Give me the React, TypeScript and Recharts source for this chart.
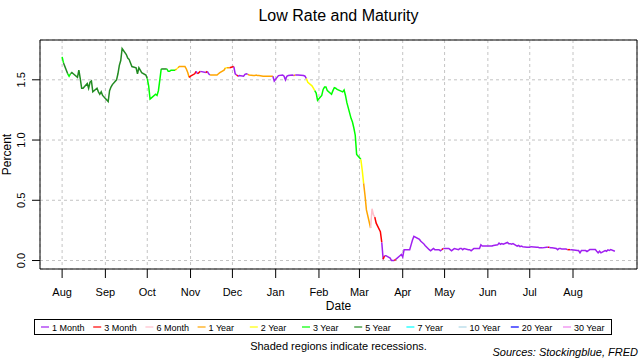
import React from "react";
import {
  LineChart,
  Line,
  XAxis,
  YAxis,
  CartesianGrid,
  ReferenceArea,
} from "recharts";

// Lowest Treasury yield of the day and the maturity that held it
const dates = [
  "2019-08-01", "2019-08-02", "2019-08-05", "2019-08-06", "2019-08-07", "2019-08-08", "2019-08-09", "2019-08-12", "2019-08-13", "2019-08-14", "2019-08-15", "2019-08-16", "2019-08-19", "2019-08-20", "2019-08-21", "2019-08-22", "2019-08-23", "2019-08-26", "2019-08-27", "2019-08-28", "2019-08-29", "2019-08-30",
  "2019-09-03", "2019-09-04", "2019-09-05", "2019-09-06", "2019-09-09", "2019-09-10", "2019-09-11", "2019-09-12", "2019-09-13", "2019-09-16", "2019-09-17", "2019-09-18", "2019-09-19", "2019-09-20", "2019-09-23", "2019-09-24", "2019-09-25", "2019-09-26", "2019-09-27", "2019-09-30",
  "2019-10-01", "2019-10-02", "2019-10-03", "2019-10-04", "2019-10-07", "2019-10-08", "2019-10-09", "2019-10-10", "2019-10-11", "2019-10-15", "2019-10-16", "2019-10-17", "2019-10-18", "2019-10-21", "2019-10-22", "2019-10-23", "2019-10-24", "2019-10-25", "2019-10-28", "2019-10-29", "2019-10-30", "2019-10-31",
  "2019-11-01", "2019-11-04", "2019-11-05", "2019-11-06", "2019-11-07", "2019-11-08", "2019-11-12", "2019-11-13", "2019-11-14", "2019-11-15", "2019-11-18", "2019-11-19", "2019-11-20", "2019-11-21", "2019-11-22", "2019-11-25", "2019-11-26", "2019-11-27", "2019-11-29",
  "2019-12-02", "2019-12-03", "2019-12-04", "2019-12-05", "2019-12-06", "2019-12-09", "2019-12-10", "2019-12-11", "2019-12-12", "2019-12-13", "2019-12-16", "2019-12-17", "2019-12-18", "2019-12-19", "2019-12-20", "2019-12-23", "2019-12-24", "2019-12-26", "2019-12-27", "2019-12-30", "2019-12-31",
  "2020-01-02", "2020-01-03", "2020-01-06", "2020-01-07", "2020-01-08", "2020-01-09", "2020-01-10", "2020-01-13", "2020-01-14", "2020-01-15", "2020-01-16", "2020-01-17", "2020-01-21", "2020-01-22", "2020-01-23", "2020-01-24", "2020-01-27", "2020-01-28", "2020-01-29", "2020-01-30", "2020-01-31",
  "2020-02-03", "2020-02-04", "2020-02-05", "2020-02-06", "2020-02-07", "2020-02-10", "2020-02-11", "2020-02-12", "2020-02-13", "2020-02-14", "2020-02-18", "2020-02-19", "2020-02-20", "2020-02-21", "2020-02-24", "2020-02-25", "2020-02-26", "2020-02-27", "2020-02-28",
  "2020-03-02", "2020-03-03", "2020-03-04", "2020-03-05", "2020-03-06", "2020-03-09", "2020-03-10", "2020-03-11", "2020-03-12", "2020-03-13", "2020-03-16", "2020-03-17", "2020-03-18", "2020-03-19", "2020-03-20", "2020-03-23", "2020-03-24", "2020-03-25", "2020-03-26", "2020-03-27", "2020-03-30", "2020-03-31",
  "2020-04-01", "2020-04-02", "2020-04-03", "2020-04-06", "2020-04-07", "2020-04-08", "2020-04-09", "2020-04-13", "2020-04-14", "2020-04-15", "2020-04-16", "2020-04-17", "2020-04-20", "2020-04-21", "2020-04-22", "2020-04-23", "2020-04-24", "2020-04-27", "2020-04-28", "2020-04-29", "2020-04-30",
  "2020-05-01", "2020-05-04", "2020-05-05", "2020-05-06", "2020-05-07", "2020-05-08", "2020-05-11", "2020-05-12", "2020-05-13", "2020-05-14", "2020-05-15", "2020-05-18", "2020-05-19", "2020-05-20", "2020-05-21", "2020-05-22", "2020-05-26", "2020-05-27", "2020-05-28", "2020-05-29",
  "2020-06-01", "2020-06-02", "2020-06-03", "2020-06-04", "2020-06-05", "2020-06-08", "2020-06-09", "2020-06-10", "2020-06-11", "2020-06-12", "2020-06-15", "2020-06-16", "2020-06-17", "2020-06-18", "2020-06-19", "2020-06-22", "2020-06-23", "2020-06-24", "2020-06-25", "2020-06-26", "2020-06-29", "2020-06-30",
  "2020-07-01", "2020-07-02", "2020-07-06", "2020-07-07", "2020-07-08", "2020-07-09", "2020-07-10", "2020-07-13", "2020-07-14", "2020-07-15", "2020-07-16", "2020-07-17", "2020-07-20", "2020-07-21", "2020-07-22", "2020-07-23", "2020-07-24", "2020-07-27", "2020-07-28", "2020-07-29", "2020-07-30", "2020-07-31",
  "2020-08-03", "2020-08-04", "2020-08-05", "2020-08-06", "2020-08-07", "2020-08-10", "2020-08-11", "2020-08-12", "2020-08-13", "2020-08-14", "2020-08-17", "2020-08-18", "2020-08-19", "2020-08-20", "2020-08-21", "2020-08-24", "2020-08-25", "2020-08-26", "2020-08-27", "2020-08-28", "2020-08-31",
];

const lowRate = [
  1.69, 1.64, 1.55, 1.53, 1.55, 1.56, 1.55, 1.52, 1.58, 1.51, 1.43, 1.43, 1.47, 1.43, 1.48, 1.49, 1.40, 1.43, 1.40, 1.38, 1.40, 1.37,
  1.32, 1.41, 1.44, 1.46, 1.50, 1.55, 1.62, 1.66, 1.76, 1.71, 1.68, 1.67, 1.64, 1.61, 1.60, 1.55, 1.60, 1.58, 1.56, 1.54,
  1.51, 1.45, 1.34, 1.35, 1.38, 1.37, 1.41, 1.50, 1.59, 1.59, 1.57, 1.57, 1.58, 1.58, 1.59, 1.60, 1.61, 1.61, 1.61, 1.59, 1.56, 1.52,
  1.53, 1.55, 1.57, 1.55, 1.56, 1.57, 1.56, 1.57, 1.55, 1.54, 1.54, 1.54, 1.54, 1.55, 1.56, 1.58, 1.60, 1.60, 1.60,
  1.61, 1.55, 1.54, 1.53, 1.535, 1.53, 1.545, 1.55, 1.545, 1.54, 1.535, 1.535, 1.54, 1.535, 1.535, 1.53, 1.53, 1.53, 1.53, 1.53, 1.49,
  1.52, 1.535, 1.54, 1.53, 1.50, 1.53, 1.535, 1.54, 1.535, 1.54, 1.54, 1.54, 1.535, 1.53, 1.51, 1.48, 1.45, 1.43, 1.41, 1.39, 1.33,
  1.37, 1.42, 1.44, 1.44, 1.41, 1.38, 1.41, 1.435, 1.43, 1.42, 1.40, 1.415, 1.37, 1.31, 1.18, 1.15, 1.10, 1.04, 0.88,
  0.84, 0.75, 0.64, 0.54, 0.42, 0.27, 0.43, 0.38, 0.36, 0.31, 0.24, 0.15, 0.01, 0.04, 0.04, 0.02, 0.0, 0.0, 0.0, 0.01, 0.04, 0.05,
  0.03, 0.09, 0.09, 0.09, 0.13, 0.17, 0.20, 0.175, 0.16, 0.15, 0.14, 0.125, 0.09, 0.08, 0.09, 0.10, 0.09, 0.09, 0.08, 0.09, 0.10,
  0.10, 0.10, 0.09, 0.08, 0.09, 0.10, 0.09, 0.10, 0.10, 0.09, 0.10, 0.09, 0.09, 0.08, 0.09, 0.10, 0.10, 0.13, 0.12, 0.12,
  0.12, 0.12, 0.12, 0.12, 0.125, 0.13, 0.145, 0.135, 0.14, 0.135, 0.15, 0.14, 0.14, 0.135, 0.14, 0.12, 0.125, 0.115, 0.12, 0.115, 0.11, 0.11,
  0.11, 0.115, 0.11, 0.11, 0.105, 0.105, 0.105, 0.11, 0.11, 0.11, 0.105, 0.105, 0.10, 0.09, 0.10, 0.10, 0.095, 0.095, 0.09, 0.09, 0.09, 0.09,
  0.085, 0.083, 0.083, 0.064, 0.083, 0.083, 0.075, 0.083, 0.091, 0.091, 0.091, 0.077, 0.064, 0.077, 0.064, 0.083, 0.077, 0.088, 0.083, 0.091, 0.077,
];

const maturity = [
  "3Y", "5Y", "3Y", "3Y", "5Y", "5Y", "5Y", "5Y", "5Y", "5Y", "5Y", "5Y", "5Y", "5Y", "5Y", "5Y", "5Y", "5Y", "5Y", "5Y", "5Y", "5Y",
  "5Y", "5Y", "5Y", "5Y", "5Y", "5Y", "5Y", "5Y", "5Y", "5Y", "5Y", "5Y", "5Y", "5Y", "5Y", "5Y", "5Y", "5Y", "5Y", "5Y",
  "3Y", "3Y", "3Y", "3Y", "3Y", "3Y", "3Y", "3Y", "5Y", "3Y", "3Y", "3Y", "3Y", "1Y", "2Y", "1Y", "1Y", "1Y", "1Y", "1Y", "1Y", "3M",
  "3M", "3M", "1M", "3M", "3M", "1M", "3M", "1M", "1M", "1Y", "1Y", "1Y", "1Y", "1Y", "1Y", "1Y", "2Y", "1Y", "3M",
  "1M", "1M", "3M", "1M", "1M", "1M", "1M", "1M", "1Y", "1Y", "1Y", "1Y", "1Y", "1Y", "1Y", "1Y", "1Y", "1Y", "1Y", "1M", "1M",
  "1M", "1M", "1M", "1M", "1M", "1M", "1M", "1M", "1Y", "1M", "1M", "1M", "1M", "1M", "2Y", "2Y", "2Y", "2Y", "3Y", "3Y", "3Y",
  "3Y", "3Y", "3Y", "3Y", "3Y", "3Y", "3Y", "3Y", "3Y", "3Y", "3Y", "3Y", "3Y", "3Y", "3Y", "3Y", "3Y", "3Y", "3Y",
  "2Y", "2Y", "1Y", "1Y", "1Y", "6M", "6M", "6M", "3M", "3M", "3M", "1M", "3M", "1M", "1M", "1M", "1M", "1M", "3M", "1M", "1M", "1M",
  "1M", "1M", "1M", "1M", "1M", "1M", "1M", "1M", "1M", "1M", "1M", "1M", "1M", "1M", "1M", "1M", "1M", "1M", "1M", "3M", "1M",
  "1M", "1M", "1M", "1M", "1M", "1M", "1M", "1M", "1M", "1M", "1M", "1M", "1M", "1M", "1M", "1M", "1M", "1M", "1M", "1M",
  "1M", "1M", "1M", "1M", "1M", "1M", "1M", "1M", "1M", "1M", "1M", "1M", "1M", "1M", "1M", "1M", "1M", "1M", "1M", "1M", "1M", "1M",
  "1M", "1M", "1M", "1M", "1M", "1M", "1M", "1M", "3M", "1M", "1M", "1M", "1M", "1M", "1M", "1M", "1M", "1M", "3M", "3M", "1M", "1M",
  "1M", "1M", "1M", "1M", "1M", "1M", "1M", "1M", "1M", "1M", "1M", "1M", "1M", "1M", "1M", "1M", "1M", "1M", "1M", "1M", "1M",
];

const maturityCodes = ["1M", "3M", "6M", "1Y", "2Y", "3Y", "5Y", "7Y", "10Y", "20Y", "30Y"];
const maturityNames = ["1 Month", "3 Month", "6 Month", "1 Year", "2 Year", "3 Year", "5 Year", "7 Year", "10 Year", "20 Year", "30 Year"];
const maturityColors = ["#A020F0", "#FF0000", "#FFC0CB", "#FFA500", "#FFFF00", "#00FF00", "#228B22", "#00FFFF", "#ADD8E6", "#0000FF", "#EE82EE"];

const monthTicks = [
  "2019-08-01", "2019-09-01", "2019-10-01", "2019-11-01", "2019-12-01", "2020-01-01", "2020-02-01",
  "2020-03-01", "2020-04-01", "2020-05-01", "2020-06-01", "2020-07-01", "2020-08-01",
];
const monthLabels = ["Aug", "Sep", "Oct", "Nov", "Dec", "Jan", "Feb", "Mar", "Apr", "May", "Jun", "Jul", "Aug"];
const yTicks = [0, 0.5, 1, 1.5];

const FONT = "'Liberation Sans', Arial, sans-serif";
const toTime = (d: string) => Date.parse(d + "T00:00:00Z");
const tickTimes = monthTicks.map(toTime);

// one row per day, one key per run of equal maturity (each run also takes the next point)
const rows: Record<string, number>[] = dates.map((d) => ({ t: toTime(d) }));
const runs: { key: string; color: string }[] = [];
let start = 0;
for (let i = 1; i <= dates.length; i++) {
  if (i === dates.length || maturity[i] !== maturity[start]) {
    const key = "run" + runs.length;
    const last = Math.min(i, dates.length - 1);
    for (let j = start; j <= last; j++) rows[j][key] = lowRate[j];
    runs.push({ key, color: maturityColors[maturityCodes.indexOf(maturity[start])] });
    start = i;
  }
}

// R style 4% padding on both axes
const tMin = rows[0].t;
const tMax = rows[rows.length - 1].t;
const xDomain = [tMin - 0.04 * (tMax - tMin), tMax + 0.04 * (tMax - tMin)];
const vMin = Math.min(...lowRate);
const vMax = Math.max(...lowRate);
const yDomain = [vMin - 0.04 * (vMax - vMin), vMax + 0.04 * (vMax - vMin)];

const XTick = (props: any) => {
  const { x, payload } = props;
  return (
    <text x={x} y={296} textAnchor="middle" fontSize={11} fill="#000" fontFamily={FONT}>
      {monthLabels[tickTimes.indexOf(payload.value)]}
    </text>
  );
};

const YTick = (props: any) => {
  const { y, payload } = props;
  return (
    <text
      x={25.5}
      y={y}
      transform={`rotate(-90, 25.5, ${y})`}
      textAnchor="middle"
      fontSize={11}
      fill="#000"
      fontFamily={FONT}
    >
      {Number(payload.value).toFixed(1)}
    </text>
  );
};

const App: React.FC = () => {
  return (
    <div style={{ position: "absolute", left: 0, top: 0, width: 640, height: 360, background: "#fff" }}>
      <LineChart width={640} height={360} data={rows} margin={{ top: 40, right: 3, bottom: 51, left: 0 }}>
        <CartesianGrid stroke="#c4c4c4" strokeDasharray="3 3" />
        <XAxis
          dataKey="t"
          type="number"
          domain={xDomain}
          ticks={tickTimes}
          interval={0}
          height={40}
          axisLine={false}
          tickLine={{ stroke: "#000" }}
          tickSize={9}
          tick={<XTick />}
        />
        <YAxis
          type="number"
          domain={yDomain}
          ticks={yTicks}
          width={40}
          axisLine={false}
          tickLine={{ stroke: "#000" }}
          tickSize={8}
          tick={<YTick />}
        />
        {runs.map((r) => (
          <Line
            key={r.key}
            dataKey={r.key}
            type="linear"
            stroke={r.color}
            strokeWidth={1.5}
            dot={false}
            activeDot={false}
            isAnimationActive={false}
          />
        ))}
        <ReferenceArea
          x1={xDomain[0]}
          x2={xDomain[1]}
          y1={yDomain[0]}
          y2={yDomain[1]}
          fill="none"
          stroke="#000"
          strokeWidth={1}
          ifOverflow="visible"
        />
      </LineChart>
      <svg
        width={640}
        height={360}
        style={{ position: "absolute", left: 0, top: 0, pointerEvents: "none" }}
        fontFamily={FONT}
      >
        <text x={338.5} y={21} textAnchor="middle" fontSize={16} fill="#000">
          Low Rate and Maturity
        </text>
        <text x={338.5} y={309.5} textAnchor="middle" fontSize={12} fill="#000">
          Date
        </text>
        <text x={11} y={154.5} transform="rotate(-90, 11, 154.5)" textAnchor="middle" fontSize={12} fill="#000">
          Percent
        </text>
        <rect x={34.5} y={319.5} width={577} height={15} fill="#fff" stroke="#000" strokeWidth={1} />
        {maturityNames.map((name, i) => {
          const lx = 41 + i * 52.2;
          return (
            <g key={name}>
              <line x1={lx} x2={lx + 8} y1={327} y2={327} stroke={maturityColors[i]} strokeWidth={1.2} />
              <text x={lx + 11} y={330.5} fontSize={9} fill="#000">
                {name}
              </text>
            </g>
          );
        })}
        <text x={338.5} y={349.5} textAnchor="middle" fontSize={11} fill="#000">
          Shaded regions indicate recessions.
        </text>
        <text x={638} y={355.5} textAnchor="end" fontSize={11} fontStyle="italic" fill="#000">
          Sources: Stockingblue, FRED
        </text>
      </svg>
    </div>
  );
};

export default App;
